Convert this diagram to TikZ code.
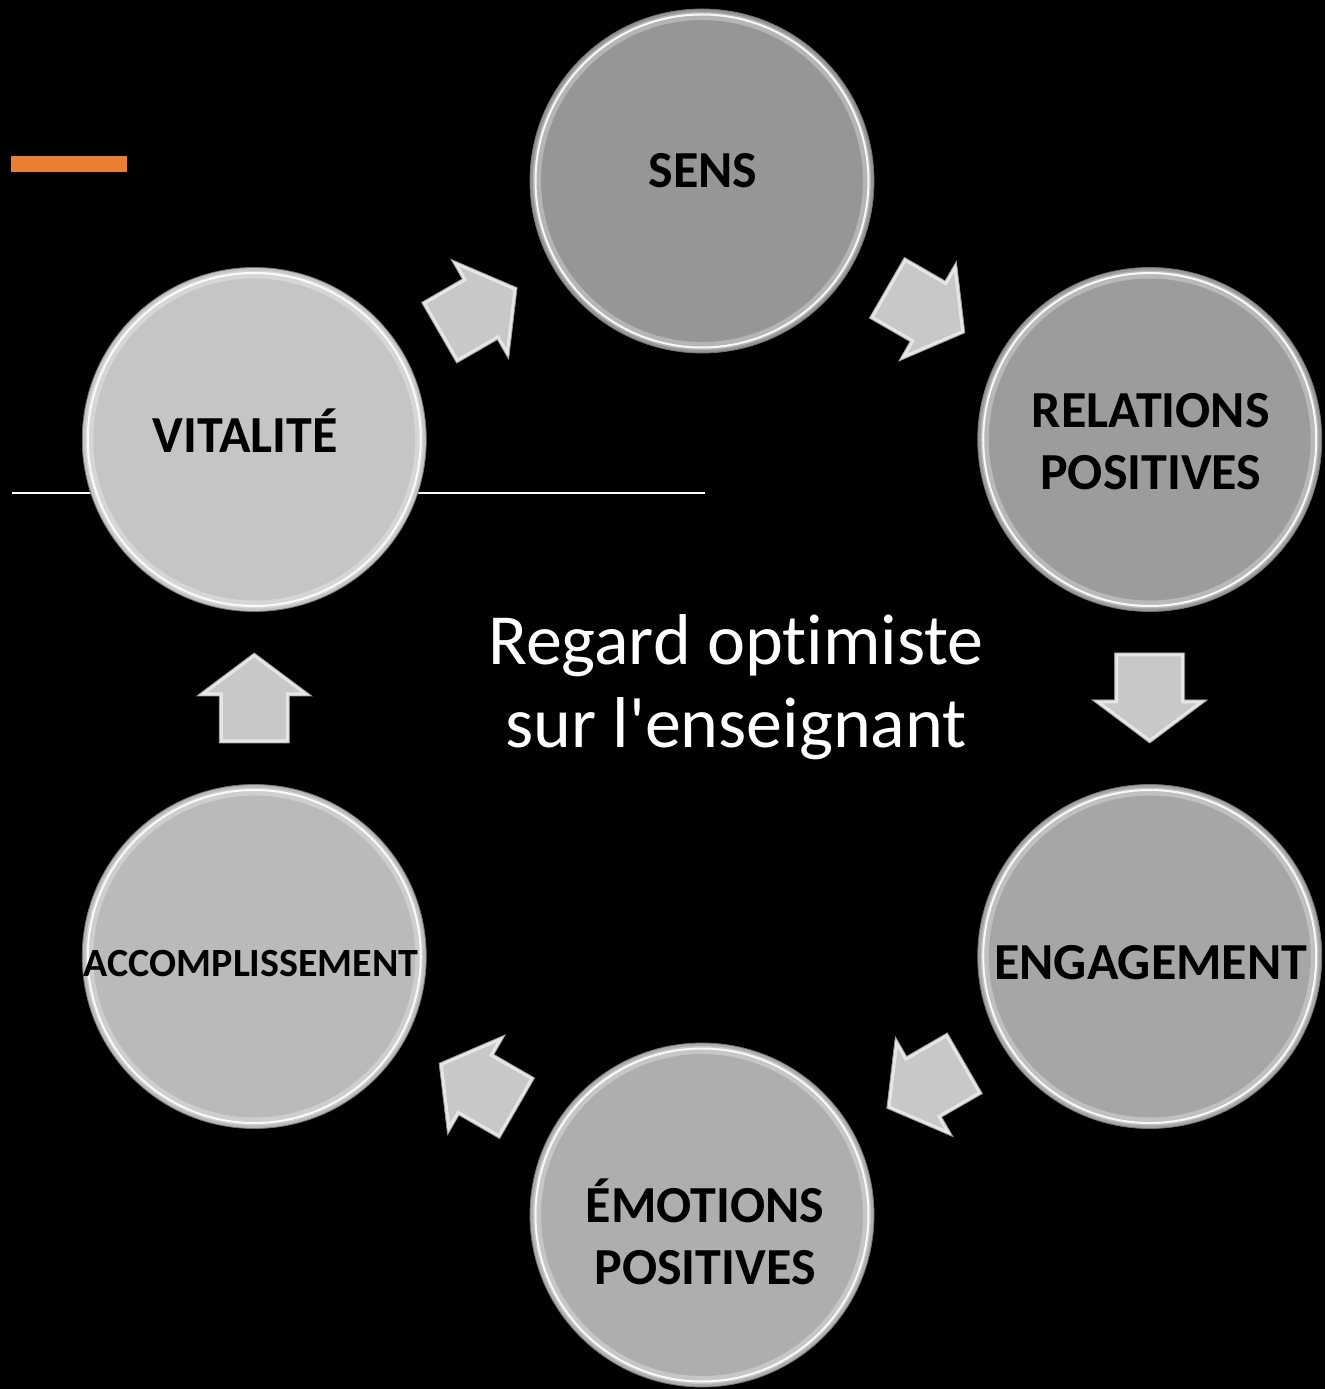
\documentclass[tikz,border=0pt]{standalone}
\usepackage{fontspec}
\setmainfont{Carlito}[Ligatures=NoCommon]
\usetikzlibrary{calc}

\definecolor{barorange}{HTML}{ED7D31}
\definecolor{arrowgray}{HTML}{C8C8C8}

\tikzset{
  bubble/.style={circle, minimum size=344pt, inner sep=0pt, draw=black!55, line width=0.8pt,
    path picture={
      \draw[white, opacity=.3, line width=8pt] (path picture bounding box.center) circle (165pt);
      \draw[white, opacity=.9, line width=2pt] (path picture bounding box.center) circle (166.5pt);
    }},
  bigword/.style={font=\bfseries\fontsize{52}{62}\selectfont, align=center, anchor=base},
  flowshape/.style={insert path={(-45,-35) -- (2,-35) -- (2,-57.5) -- (45,0) -- (2,57.5) -- (2,35) -- (-45,35) -- cycle}},
  pics/flowarrow/.style={code={
    \begin{scope}
      \clip[flowshape];
      \fill[arrowgray, flowshape];
      \draw[white, opacity=.55, line width=7pt, flowshape];
    \end{scope}
    \draw[black!40, line width=.8pt, flowshape];
  }}
}

\begin{document}
\begin{tikzpicture}[x=1pt, y=1pt]
\useasboundingbox (-702,-691) rectangle (623,698);
\fill[black] (-702,-691) rectangle (623,698);
% title bar and rule
\fill[barorange] (-691,526) rectangle (-575,542);
\draw[white, line width=2.2pt] (-690,205) -- (3,205);
% the six circles
\foreach \nm/\ang/\g in {sens/90/150, relations/30/156, engagement/-30/166, emotions/-90/174, accomp/-150/186, vitalite/150/197}
  \node[bubble, fill={rgb,255:red,\g;green,\g;blue,\g}] (\nm) at (\ang:517) {};
% block arrows between them
\foreach \from/\to/\ang in {vitalite/sens/30, sens/relations/-30, relations/engagement/-90, engagement/emotions/-150, emotions/accomp/150, accomp/vitalite/90}
  \pic[rotate=\ang] at ($(\from)!0.5!(\to)$) {flowarrow};
% labels (base = last line)
\node[bigword] (sens-txt) at ([shift={(1,-7)}]sens.center) {SENS};
\node[bigword] (relations-txt) at ([shift={(1,-50)}]relations.center) {RELATIONS\\POSITIVES};
\node[bigword] (engagement-txt) at ([shift={(1,-23)}]engagement.center) {ENGAGEMENT};
\node[bigword] (emotions-txt) at ([shift={(3,-69)}]emotions.center) {ÉMOTIONS\\POSITIVES};
\node[bigword, font=\bfseries\fontsize{40}{48}\selectfont] (accomp-txt) at ([shift={(-3,-20)}]accomp.center) {ACCOMPLISSEMENT};
\node[bigword] (vitalite-txt) at ([shift={(-9,-13)}]vitalite.center) {VITALITÉ};
\node[white, font=\fontsize{72}{83}\selectfont, align=center, anchor=base] (theme) at (34,-50) {Regard optimiste\\sur l\textquotesingle enseignant};
\end{tikzpicture}
\end{document}
